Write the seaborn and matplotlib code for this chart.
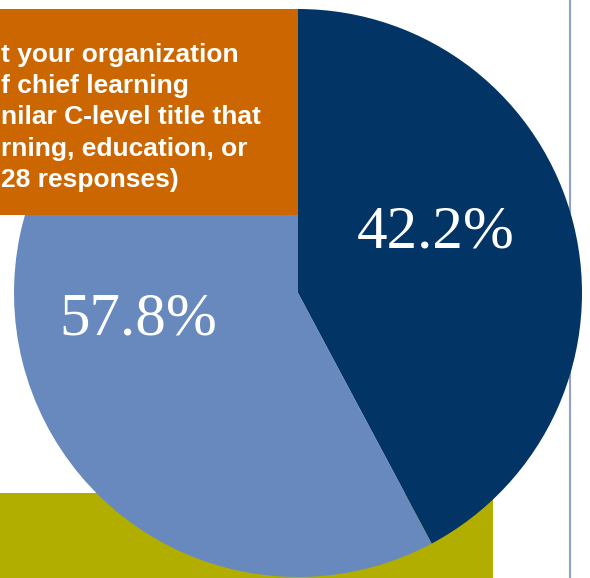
import matplotlib
matplotlib.use("Agg")
import matplotlib.pyplot as plt
import seaborn as sns
from matplotlib.patches import Rectangle

# Data
labels = ["Yes", "No"]
shares = [42.2, 57.8]
slice_colors = ["#023465", "#6889bd"]

question_lines = [
    "t your organization",
    "f chief learning",
    "nilar C-level title that",
    "rning, education, or",
    "28 responses)",
]

sns.set_theme(style="white")
plt.rcParams["font.family"] = ["Liberation Sans", "DejaVu Sans"]

W, H = 590, 578
fig = plt.figure(figsize=(W / 100, H / 100), dpi=100)
ax = fig.add_axes([0, 0, 1, 1])

# Pie (clockwise from 12 o'clock)
cx, cy, r = 298, H - 293, 284
wedges, _ = ax.pie(shares, colors=slice_colors, startangle=90, counterclock=False,
                   center=(cx, cy), radius=r, frame=True,
                   wedgeprops=dict(linewidth=0, zorder=3))

# Background panels
ax.add_patch(Rectangle((0, 0), 493, H - 493, facecolor="#b2ae00", edgecolor="none", zorder=1))
ax.axvline(570, color="#8fa2cf", linewidth=1.5, zorder=1)
ax.add_patch(Rectangle((0, H - 215), 298, 206, facecolor="#cc6600", edgecolor="none", zorder=5))

# Question text in the orange panel
baselines = [62, 93, 124, 156, 187]
for txt, yb in zip(question_lines, baselines):
    ax.text(1, H - yb, txt, color="white", fontsize=19, fontweight="bold",
            ha="left", va="baseline", zorder=6)

# Percentage labels
label_pos = [(436, 233), (138, 320)]
for v, (lx, ly) in zip(shares, label_pos):
    ax.text(lx, H - ly, f"{v:.1f}%", color="white", fontsize=44,
            family=["Liberation Serif", "DejaVu Serif"],
            ha="center", va="center", zorder=7)

ax.set_xlim(0, W)
ax.set_ylim(0, H)
ax.set_aspect("auto")
ax.axis("off")

fig.savefig("out.png", dpi=100, facecolor="white")
